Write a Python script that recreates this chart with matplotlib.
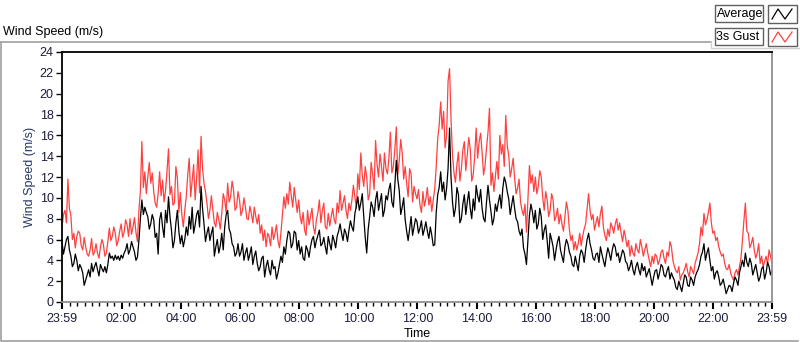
import matplotlib.pyplot as plt
from matplotlib.patches import Rectangle

plt.rcParams['font.family'] = ['Liberation Sans', 'DejaVu Sans']

# readings on the even 6 minute marks after 23:59
gust = [
    7.2, 8.8, 11.8, 8.3, 6.6, 6.3, 6.6, 5.0, 5.3, 4.4,
    6.1, 4.8, 4.7, 5.3, 5.5, 4.7, 7.1, 6.3, 6.6, 5.9,
    7.5, 6.7, 7.4, 8.0, 7.2, 6.7, 8.8, 15.4, 12.5, 12.0,
    11.4, 10.6, 9.1, 12.5, 11.7, 10.7, 14.7, 11.1, 9.5, 11.9,
    10.5, 7.2, 10.1, 13.8, 11.7, 9.8, 14.6, 15.9, 11.4, 9.5,
    8.8, 8.8, 7.2, 7.9, 8.5, 9.8, 11.4, 10.1, 10.7, 9.1,
    9.8, 8.8, 9.1, 7.9, 8.5, 9.1, 7.5, 6.6, 5.9, 5.3,
    6.3, 7.2, 6.6, 5.9, 6.6, 10.1, 10.4, 11.5, 9.1, 9.8,
    9.8, 7.5, 6.9, 8.8, 8.2, 7.2, 7.9, 9.8, 8.8, 7.2,
    8.5, 8.2, 7.9, 9.5, 10.7, 9.5, 8.8, 9.5, 9.8, 10.1,
    12.3, 14.3, 11.1, 12.0, 10.4, 12.3, 15.5, 12.0, 13.0, 14.3,
    12.3, 16.3, 13.0, 16.8, 13.6, 14.3, 13.0, 10.1, 12.3, 11.1,
    9.9, 9.3, 10.6, 9.9, 9.3, 8.7, 10.9, 15.7, 19.2, 18.3,
    16.0, 22.4, 14.1, 11.5, 14.4, 12.8, 15.4, 14.1, 14.7, 12.2,
    16.7, 15.4, 14.4, 13.1, 16.3, 11.2, 10.6, 13.5, 16.0, 15.1,
    17.9, 14.1, 12.8, 11.9, 10.9, 9.6, 8.3, 6.7, 13.1, 12.2,
    12.0, 11.1, 12.0, 8.8, 9.8, 8.8, 9.8, 8.2, 7.5, 7.5,
    8.2, 8.8, 5.9, 5.0, 5.0, 6.6, 6.3, 7.5, 10.4, 7.9,
    6.9, 8.2, 8.5, 7.2, 5.9, 6.3, 7.2, 7.5, 6.9, 6.6,
    6.9, 5.3, 4.4, 4.7, 5.6, 4.7, 5.3, 5.0, 4.7, 3.4,
    3.7, 4.4, 4.0, 5.0, 3.7, 4.4, 5.3, 3.4, 2.8, 2.1,
    2.8, 3.7, 2.4, 3.1, 3.7, 4.7, 7.2, 8.5, 7.9, 9.5,
    6.6, 5.9, 5.3, 4.4, 3.7, 3.1, 2.8, 2.1, 3.1, 3.4,
    5.9, 9.5, 6.6, 5.6, 5.0, 4.7, 3.7, 3.4, 4.4, 5.0,
    3.7,
]

# readings in between (3 minutes after each of the above)
gustMid = [
    8.4, 7.6, 9.0, 6.0, 5.2, 6.8, 5.4, 6.2, 4.6, 5.0,
    4.5, 5.6, 4.2, 6.0, 4.4, 5.8, 5.9, 7.2, 5.4, 6.8,
    6.2, 7.9, 6.3, 6.5, 8.1, 5.8, 10.6, 11.0, 10.4, 13.4,
    12.4, 9.5, 10.4, 10.2, 9.6, 12.6, 10.3, 9.3, 13.0, 8.6,
    8.4, 8.8, 12.2, 10.1, 13.2, 11.8, 10.5, 12.8, 10.6, 8.0,
    10.2, 7.6, 8.6, 7.0, 10.4, 8.6, 9.6, 11.6, 8.8, 10.6,
    8.3, 10.0, 8.0, 9.2, 7.6, 8.2, 8.4, 7.4, 6.9, 6.6,
    5.4, 6.0, 7.4, 5.2, 8.4, 9.0, 9.4, 10.2, 11.0, 8.6,
    8.2, 8.6, 6.4, 7.4, 9.0, 6.5, 8.6, 7.6, 9.5, 7.0,
    7.3, 9.0, 7.5, 8.6, 8.8, 10.2, 8.0, 8.8, 11.2, 9.0,
    10.8, 12.2, 13.0, 9.8, 13.4, 10.8, 13.2, 14.2, 11.6, 12.8,
    13.8, 12.4, 14.6, 12.2, 15.6, 11.8, 11.4, 12.8, 9.6, 10.4,
    10.8, 8.6, 9.2, 11.0, 10.1, 9.8, 13.0, 17.0, 16.6, 14.8,
    21.2, 17.6, 12.4, 13.2, 11.6, 14.6, 12.6, 15.8, 11.6, 14.0,
    13.8, 16.2, 12.2, 14.8, 18.6, 12.4, 12.0, 11.8, 14.2, 13.0,
    15.0, 12.0, 13.8, 10.4, 11.8, 8.8, 9.4, 9.8, 11.4, 10.6,
    10.4, 12.6, 10.0, 10.6, 8.2, 10.4, 7.8, 9.0, 8.4, 6.8,
    9.6, 7.0, 6.4, 5.8, 5.6, 5.4, 7.0, 9.0, 8.8, 8.4,
    7.6, 7.2, 9.2, 6.4, 7.0, 7.6, 6.6, 8.0, 7.6, 5.8,
    6.2, 5.9, 5.4, 4.4, 5.0, 6.0, 4.4, 5.6, 4.0, 4.4,
    4.6, 3.6, 4.8, 4.2, 4.8, 5.8, 4.0, 3.0, 3.4, 2.6,
    3.2, 2.9, 3.4, 2.7, 4.2, 5.6, 6.4, 7.4, 8.6, 7.6,
    6.8, 6.2, 4.8, 4.6, 3.2, 3.6, 2.4, 2.8, 2.6, 4.2,
    7.8, 6.8, 5.2, 6.2, 4.2, 5.6, 4.4, 3.9, 3.6, 4.4,
]

average = [
    5.8, 5.3, 6.3, 4.4, 3.7, 4.0, 3.6, 2.8, 2.1, 3.1,
    3.7, 3.4, 3.1, 3.6, 2.9, 2.8, 4.7, 4.4, 4.5, 4.4,
    4.5, 4.7, 5.6, 5.0, 5.3, 4.0, 5.9, 9.8, 9.1, 8.2,
    7.5, 7.9, 6.6, 7.9, 7.2, 8.8, 10.1, 6.9, 5.9, 8.8,
    5.6, 5.3, 7.2, 8.2, 9.1, 7.4, 8.8, 11.1, 7.5, 6.6,
    5.9, 7.2, 5.3, 4.7, 6.6, 7.2, 8.8, 6.6, 5.3, 4.7,
    4.4, 5.6, 4.7, 4.0, 5.3, 4.4, 3.7, 3.4, 4.4, 3.4,
    3.1, 4.0, 3.4, 2.8, 4.4, 5.3, 5.9, 6.6, 5.6, 6.6,
    5.9, 5.3, 4.0, 5.0, 5.3, 6.3, 5.9, 6.9, 5.6, 5.3,
    6.3, 5.0, 5.9, 6.3, 7.5, 5.9, 6.6, 6.9, 7.2, 8.5,
    10.1, 9.5, 8.2, 4.7, 8.2, 9.1, 9.8, 8.8, 10.4, 8.8,
    9.8, 11.4, 9.1, 13.6, 10.7, 9.1, 7.9, 5.9, 8.2, 7.2,
    7.7, 7.1, 6.4, 7.7, 6.1, 6.4, 5.5, 10.3, 12.5, 11.5,
    10.9, 16.7, 9.6, 9.0, 10.3, 8.0, 10.3, 9.6, 9.0, 9.9,
    11.2, 9.6, 9.0, 7.7, 11.2, 8.7, 8.0, 8.7, 10.3, 10.9,
    11.5, 9.9, 9.3, 9.0, 7.7, 6.4, 5.2, 3.6, 8.3, 8.7,
    8.8, 7.5, 8.2, 6.9, 5.9, 6.6, 5.3, 5.0, 6.3, 4.4,
    5.3, 5.6, 4.4, 3.4, 3.7, 4.4, 4.7, 5.0, 6.6, 5.0,
    4.0, 4.7, 5.3, 4.0, 4.4, 4.7, 5.0, 5.3, 4.7, 4.4,
    4.7, 3.7, 3.4, 3.1, 3.4, 3.1, 3.7, 3.4, 2.8, 2.4,
    2.4, 3.1, 2.8, 3.4, 2.4, 3.4, 2.8, 2.1, 1.2, 1.5,
    1.8, 2.4, 1.5, 2.1, 2.4, 3.1, 4.4, 5.6, 4.7, 4.0,
    3.4, 2.8, 2.4, 1.8, 1.5, 1.2, 1.5, 1.8, 2.1, 2.8,
    4.0, 4.7, 3.4, 3.7, 3.1, 2.8, 2.4, 3.4, 2.8, 3.4,
    3.1,
]

averageMid = [
    4.6, 6.0, 5.0, 3.4, 4.6, 3.0, 3.3, 1.6, 2.6, 2.4,
    2.9, 3.8, 2.5, 3.2, 3.4, 3.6, 4.2, 4.0, 4.1, 4.0,
    4.2, 5.0, 4.6, 5.8, 4.8, 4.3, 8.0, 8.4, 8.6, 7.0,
    8.4, 6.2, 4.6, 8.6, 6.2, 7.6, 8.2, 5.2, 7.6, 6.8,
    6.4, 6.0, 6.4, 7.0, 6.6, 8.4, 7.2, 9.0, 5.8, 7.2,
    6.6, 4.4, 6.0, 5.4, 5.0, 8.4, 7.0, 5.6, 4.4, 5.6,
    4.8, 4.0, 5.2, 4.6, 3.6, 4.9, 3.0, 4.2, 2.4, 4.0,
    2.6, 3.2, 2.2, 3.6, 3.8, 4.6, 6.8, 5.2, 6.8, 5.0,
    4.6, 4.2, 5.4, 4.3, 6.0, 5.2, 6.4, 5.4, 6.2, 4.6,
    5.6, 6.4, 5.2, 6.8, 6.6, 7.0, 5.8, 7.8, 6.8, 9.2,
    8.8, 10.4, 6.2, 7.0, 9.6, 8.2, 10.6, 9.6, 8.2, 10.2,
    10.8, 9.6, 11.2, 11.8, 8.4, 10.0, 6.8, 7.0, 6.4, 8.0,
    6.6, 7.8, 7.0, 6.8, 7.2, 5.4, 8.6, 11.0, 10.6, 9.8,
    12.8, 12.0, 8.2, 11.0, 7.6, 9.4, 8.4, 10.6, 8.0, 8.8,
    10.2, 10.8, 8.0, 9.6, 9.8, 7.4, 9.4, 9.6, 9.0, 12.0,
    10.6, 8.4, 10.2, 8.0, 6.8, 7.0, 4.6, 6.0, 9.4, 7.6,
    7.0, 9.0, 6.0, 7.4, 4.2, 6.0, 4.0, 5.8, 5.0, 3.8,
    6.0, 4.8, 3.6, 4.4, 3.0, 5.0, 3.8, 6.0, 5.6, 4.2,
    4.6, 3.8, 4.6, 3.4, 5.2, 4.0, 5.6, 4.4, 3.8, 5.0,
    3.9, 3.0, 4.0, 2.6, 3.8, 2.6, 3.0, 2.4, 3.2, 1.6,
    3.0, 2.2, 3.6, 2.6, 3.0, 2.2, 2.4, 1.4, 2.0, 1.0,
    2.6, 1.6, 2.4, 1.6, 2.8, 3.6, 4.8, 4.0, 5.2, 3.0,
    2.2, 3.0, 1.6, 2.2, 0.8, 1.6, 1.0, 2.4, 1.6, 3.4,
    3.4, 3.8, 4.2, 2.6, 3.6, 2.0, 3.2, 2.2, 3.8, 2.6,
]

tickMinutes = [0, 121, 241, 361, 481, 601, 721, 841, 961, 1081, 1201, 1321, 1440]
tickLabels = ["23:59", "02:00", "04:00", "06:00", "08:00", "10:00", "12:00",
              "14:00", "16:00", "18:00", "20:00", "22:00", "23:59"]

def merge(main, mid):
    out = []
    for a, b in zip(main[:-1], mid):
        out += [a, b]
    out.append(main[-1])
    return out

gustAll = merge(gust, gustMid)
averageAll = merge(average, averageMid)
minutes = [i * 3 for i in range(len(gustAll))]

fig = plt.figure(figsize=(8, 3.42), dpi=100)
W, H = 800, 342

def px(x, y, w, h):
    return [x / W, 1 - (y + h) / H, w / W, h / H]

# outer frame of the graph panel
frame = fig.add_axes([0, 0, 1, 1])
frame.set_xlim(0, W)
frame.set_ylim(H, 0)
frame.axis("off")
frame.plot([0.5, 0.5, 798], [42, 340.5, 340.5], color="#a0a0a0", lw=1.2)
frame.plot([0.5, 711], [42, 42], color="#a0a0a0", lw=1.2)
frame.plot([711, 711, 799], [42, 48, 48], color="#d0d0d0", lw=1)
frame.text(3, 32, "Wind Speed (m/s)", fontsize=9, va="center", ha="left", color="black")

# legend boxes
for row, (name, col) in enumerate([("Average", "black"), ("3s Gust", "#ff4040")]):
    y0 = 5 + row * 23
    frame.add_patch(Rectangle((714.5, y0), 48, 17, fc="white", ec="#606060", lw=1))
    frame.text(716.5, y0 + 9, name, fontsize=9, va="center", ha="left")
    frame.add_patch(Rectangle((767.5, y0), 29, 18, fc="white", ec="#606060", lw=1))
    frame.plot([772, 778, 785, 792], [y0 + 14, y0 + 4, y0 + 14, y0 + 4], color=col, lw=0.9)

ax = fig.add_axes(px(62, 52, 710, 250))
ax.plot(minutes, gustAll, color="#ff4040", lw=0.9)
ax.plot(minutes, averageAll, color="black", lw=0.9)

ax.set_xlim(0, 1440)
ax.set_ylim(0, 24)
ax.set_yticks(range(0, 25, 2))
ax.set_xticks(tickMinutes)
ax.set_xticklabels(tickLabels)
ax.set_xticks([m for m in range(16, 1440, 15) if m not in tickMinutes], minor=True)

ax.tick_params(axis="both", colors="black", labelcolor="#1c1c3c", labelsize=9)
ax.tick_params(axis="y", length=4, width=1, pad=2)
ax.tick_params(axis="x", which="major", length=5, width=1.5, pad=3)
ax.tick_params(axis="x", which="minor", length=3, width=1)

for side in ["top", "left"]:
    ax.spines[side].set_color("black")
    ax.spines[side].set_linewidth(1.3)
for side in ["bottom", "right"]:
    ax.spines[side].set_color("#909090")
    ax.spines[side].set_linewidth(1.3)

ax.set_ylabel("Wind Speed (m/s)", fontsize=9, color="#253a6a", labelpad=3)
ax.set_xlabel("Time", fontsize=9, color="black", labelpad=2)

fig.savefig("out.png", dpi=100)
